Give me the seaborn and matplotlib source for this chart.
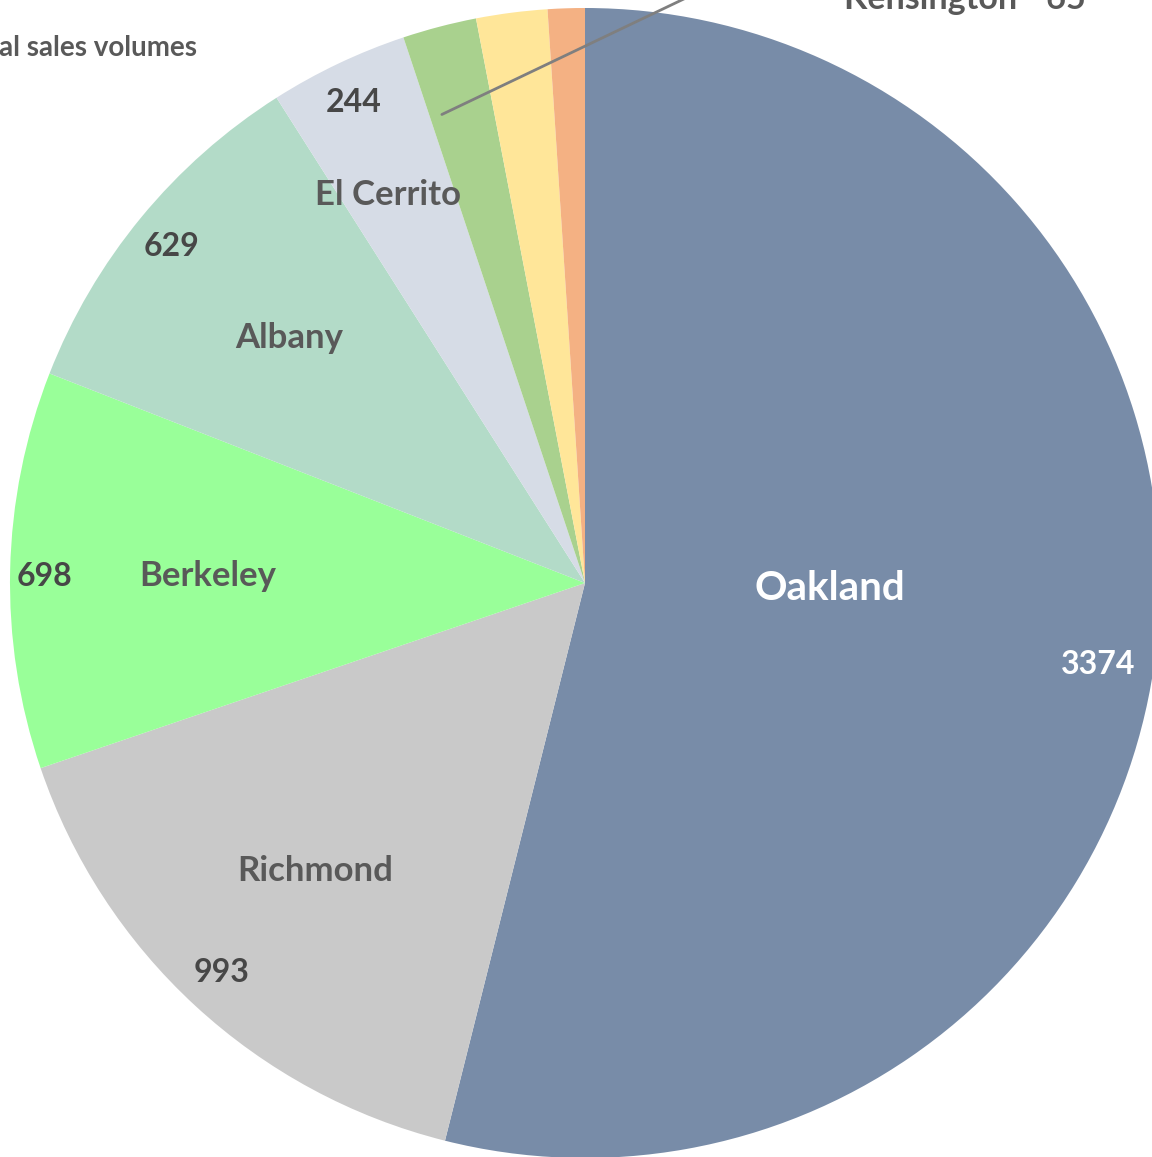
import numpy as np
import matplotlib
matplotlib.use("Agg")
import matplotlib.pyplot as plt
import seaborn as sns

# ---- data ----
cities = ["Oakland", "Richmond", "Berkeley", "Albany", "El Cerrito",
          "Piedmont", "Emeryville", "Kensington"]
sales = [3374, 993, 698, 629, 244, 130, 125, 65]
colors = ["#788CA8", "#C9C9C9", "#99FF99", "#B3DBC8", "#D6DCE6",
          "#A9D18E", "#FFE699", "#F4B183"]

sns.set_theme(style="white")
plt.rcParams["font.family"] = ["Lato", "DejaVu Sans"]

W, H = 1152, 1157
CX, CY, R = 585, 583, 575   # pie centre / radius in pixels


def to_data(px, py):
    return (px - CX) / R, (CY - py) / R


fig = plt.figure(figsize=(W / 100, H / 100), dpi=100)
ax = fig.add_axes([0, 0, 1, 1])

wedges, _ = ax.pie(sales, colors=sns.color_palette(colors), startangle=90,
                   counterclock=False, radius=1,
                   wedgeprops=dict(linewidth=0))

# pie resets the view, so fix the crop afterwards
ax.set_aspect("auto")
ax.set_xlim(-CX / R, (W - CX) / R)
ax.set_ylim(-(H - CY) / R, CY / R)
ax.set_axis_off()

# label positions (pixel centres) for name and value
name_pos = {"Oakland": (830, 588), "Richmond": (315, 871), "Berkeley": (208, 576),
            "Albany": (289, 338), "El Cerrito": (388, 195)}
value_pos = {"Oakland": (1098, 665), "Richmond": (222, 973), "Berkeley": (45, 576),
             "Albany": (172, 247), "El Cerrito": (354, 102)}

for c, v in zip(cities, sales):
    if c not in name_pos:
        continue
    white = c == "Oakland"
    ax.text(*to_data(*name_pos[c]), c, ha="center", va="center",
            fontsize=29 if white else 25, fontweight="bold",
            color="white" if white else "#595959")
    ax.text(*to_data(*value_pos[c]), str(v), ha="center", va="center",
            fontsize=23, fontweight="bold",
            color="white" if white else "#474747")

# leader line from the small green slice up to its (off-canvas) label
w = wedges[5]
ang = np.deg2rad(w.theta1 + 0.81 * (w.theta2 - w.theta1))
x0, y0 = 0.852 * np.cos(ang), 0.852 * np.sin(ang)
ax.annotate("", xy=(x0, y0), xytext=to_data(755, -35),
            arrowprops=dict(arrowstyle="-", color="#7F7F7F", lw=2,
                            shrinkA=0, shrinkB=0))

# Kensington label, cut off at the top edge
ax.text(*to_data(965, 9), "Kensington - 65", ha="center", va="baseline",
        fontsize=24.5, fontweight="bold", color="#595959")

# chart title, partially off the left edge
fig.text(197 / W, 1 - 48 / H, "Annual sales volumes", ha="right", va="center",
         fontsize=20, fontweight="bold", color="#595959")

fig.savefig("out.png", dpi=100)
